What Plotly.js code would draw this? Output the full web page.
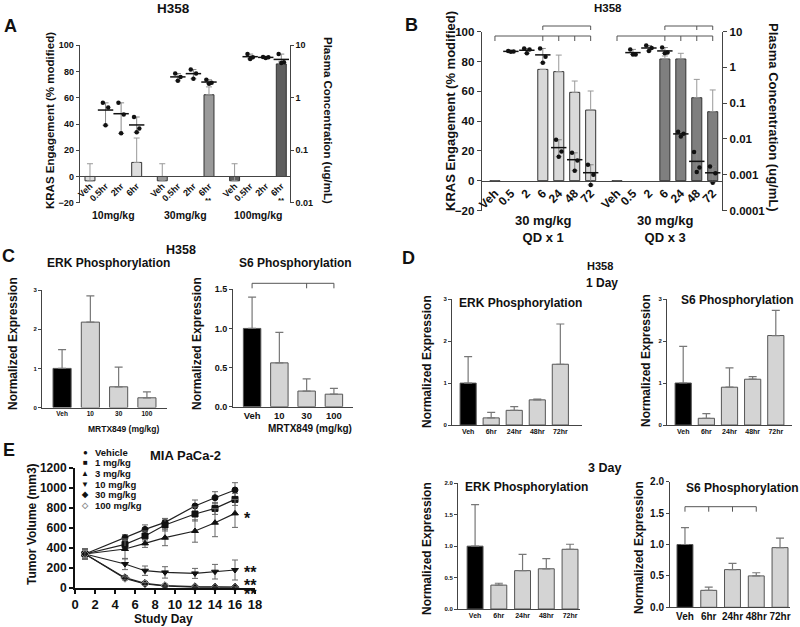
<!DOCTYPE html>
<html>
<head>
<meta charset="utf-8">
<script src="https://cdn.plot.ly/plotly-3.0.1.min.js"></script>
<style>
  body { margin: 0; background: #fff; }
  #chart { width: 800px; height: 627px; }
</style>
</head>
<body>
<div id="chart"></div>
<script>
// Figura de varios paneles: H358 / MIA PaCa-2
const W = 800, H = 627;
const FONT = 'Liberation Sans, Arial, Helvetica, sans-serif';

// ---- A: KRAS engagement tras dosis unica ----
const aDoses = ['10mg/kg', '30mg/kg', '100mg/kg'];
const aTimes = ['Veh', '0.5hr', '2hr', '6hr'];
const aEngage = [[-3.3, null, null, 10.7], [-3.3, null, null, 62.3], [-3.3, null, null, 85.8]];
const aEngageErr = [[13, 0, 0, 18.6], [13, 0, 0, 6], [13, 0, 0, 2]];
const aSig = ['', '**', '**'];
// concentracion plasmatica (ug/mL), tres animales por tiempo
const aPlasma = [
  [null, [0.80, 0.65, 0.30], [0.80, 0.48, 0.21], [0.43, 0.26, 0.22]],
  [null, [2.9, 2.5, 2.1], [3.45, 2.9, 2.3], [2.2, 1.93, 1.85]],
  [null, [6.8, 5.9, 5.5], [6.0, 5.9, 5.75], [6.8, 4.75, 4.6]]
];

// ---- B: QD x 1 vs QD x 3 ----
const bGroups = ['30 mg/kg', '30 mg/kg'];
const bRegimens = ['QD x 1', 'QD x 3'];
const bTimes = ['Veh', '0.5', '2', '6', '24', '48', '72'];
const bEngage = [[-0.5, null, null, 74.7, 73.2, 59.3, 47.4], [-0.5, null, null, 81.7, 81.7, 55.7, 46.3]];
const bEngageErr = [[0, 0, 0, 0, 11.1, 7.6, 12.8], [0, 0, 0, 2, 3.8, 12.3, 14.6]];
const bPlasma = [
  [null, [2.9, 2.8, 2.75], [3.4, 3.2, 2.5], [3.4, 2.0, 1.35], [0.0095, 0.0045, 0.0032], [0.0041, 0.0025, 0.0013], [0.0019, 0.0010, 0.00052]],
  [null, [3.2, 2.3, 2.3], [4.1, 3.5, 2.9], [3.6, 2.6, 2.5], [0.016, 0.0139, 0.0117], [0.0043, 0.0016, 0.0012], [0.0017, 0.0011, 0.0006]]
];

// ---- C: fosforilacion vs dosis ----
const cDoses = ['Veh', '10', '30', '100'];
const cErk = [1.0, 2.18, 0.53, 0.25];
const cErkErr = [0.48, 0.67, 0.50, 0.15];
const cS6 = [1.0, 0.56, 0.20, 0.16];
const cS6Err = [0.40, 0.39, 0.155, 0.075];

// ---- D: fosforilacion vs tiempo ----
const dTimes = ['Veh', '6hr', '24hr', '48hr', '72hr'];
const d1Erk = [1.0, 0.17, 0.35, 0.60, 1.45];
const d1ErkErr = [0.63, 0.13, 0.09, 0.02, 0.96];
const d1S6 = [1.0, 0.16, 0.90, 1.09, 2.13];
const d1S6Err = [0.87, 0.11, 0.46, 0.06, 0.60];
const d3Erk = [1.0, 0.38, 0.61, 0.64, 0.95];
const d3ErkErr = [0.66, 0.03, 0.26, 0.16, 0.08];
const d3S6 = [1.0, 0.27, 0.60, 0.50, 0.95];
const d3S6Err = [0.27, 0.05, 0.10, 0.05, 0.15];

// ---- E: volumen tumoral ----
const eDays = [1, 5, 7, 9, 12, 14, 16];
const eSeries = ['Vehicle', '1 mg/kg', '3 mg/kg', '10 mg/kg', '30 mg/kg', '100 mg/kg'];
const eVehicle = [337, 500, 583, 653, 817, 900, 977];
const eVehicleErr = [50, 30, 45, 40, 60, 60, 73];
const e1 = [337, 433, 517, 627, 737, 793, 883];
const e1Err = [50, 40, 50, 60, 70, 60, 60];
const e3 = [337, 387, 443, 500, 567, 650, 743];
const e3Err = [50, 100, 40, 80, 112, 140, 140];
const e10 = [337, 237, 170, 153, 143, 160, 177];
const e10Err = [50, 56, 47, 57, 50, 73, 100];
const e30 = [337, 100, 43, 20, 10, 7, 7];
const e30Err = [50, 20, 20, 15, 10, 10, 10];
const e100 = [337, 93, 37, 17, 3, 3, 3];
const e100Err = [50, 15, 15, 10, 5, 5, 5];
const eSig = ['', '', '*', '**', '**', '**'];

// ---------- utilidades ----------
const px = x => x / W;
const py = y => 1 - y / H;
const tf = (size, color) => ({ family: FONT, size: size, color: color || '#111', weight: 'bold' });
const zeros = n => new Array(n).fill(0);
const JIT = [-0.17, 0.17, 0];

const AX = {
  showgrid: false, zeroline: false, showline: true, linecolor: '#444', linewidth: 1,
  ticks: 'outside', ticklen: 3, tickwidth: 1, tickcolor: '#444', fixedrange: true
};

const aPos = (g, i) => g * 4.645 + i;
const bPos = (g, i) => g * 7.65 + i;

const traces = [];

function plasmaTraces(groups, posOf, xa, ya) {
  const sx = [], sy = [], mx = [], my = [], up = [], dn = [];
  groups.forEach((grp, g) => grp.forEach((pts, i) => {
    if (!pts) return;
    const x0 = posOf(g, i);
    pts.forEach((v, k) => { sx.push(x0 + JIT[k]); sy.push(v); });
    const m = pts.reduce((s, v) => s + v, 0) / pts.length;
    mx.push(x0); my.push(m);
    up.push(Math.max(...pts) - m);
    dn.push(m - Math.min(...pts));
  }));
  return [
    {
      type: 'scatter', mode: 'markers', x: mx, y: my, xaxis: xa, yaxis: ya, cliponaxis: false,
      marker: { symbol: 'line-ew', size: 11, color: '#111', line: { width: 1.5, color: '#111' } },
      error_y: { type: 'data', symmetric: false, array: up, arrayminus: dn, color: '#888', thickness: 1, width: 3 }
    },
    {
      type: 'scatter', mode: 'markers', x: sx, y: sy, xaxis: xa, yaxis: ya, cliponaxis: false,
      marker: { symbol: 'circle', size: 4.5, color: '#111' }
    }
  ];
}

// Panel A
const aFill = ['#dedede', '#9a9a9a', '#5f5f5f'];
aDoses.forEach((d, g) => {
  traces.push({
    type: 'bar', name: d, x: aTimes.map((t, i) => aPos(g, i)), y: aEngage[g], width: 0.64,
    xaxis: 'x', yaxis: 'y',
    marker: { color: aFill[g], line: { color: '#333', width: 1 } },
    error_y: { type: 'data', symmetric: false, array: aEngageErr[g], arrayminus: zeros(4), color: '#999', thickness: 1, width: 3 }
  });
});
traces.push(...plasmaTraces(aPlasma, aPos, 'x', 'y2'));

// Panel B
const bFill = ['#d9d9d9', '#7f7f7f'];
bRegimens.forEach((r, g) => {
  traces.push({
    type: 'bar', name: r, x: bTimes.map((t, i) => bPos(g, i)), y: bEngage[g], width: 0.63,
    xaxis: 'x2', yaxis: 'y3',
    marker: { color: bFill[g], line: { color: '#333', width: 1 } },
    error_y: { type: 'data', symmetric: false, array: bEngageErr[g], arrayminus: zeros(7), color: '#999', thickness: 1, width: 3 }
  });
});
traces.push(...plasmaTraces(bPlasma, bPos, 'x2', 'y4'));

// Paneles C y D: barras simples
function barTrace(cats, vals, errs, xa, ya, width) {
  return {
    type: 'bar', x: cats, y: vals, xaxis: xa, yaxis: ya, width: width,
    marker: { color: cats.map((c, i) => i === 0 ? '#000' : '#d4d4d4'), line: { color: '#555', width: 1 } },
    error_y: { type: 'data', symmetric: false, array: errs, arrayminus: zeros(errs.length), color: '#777', thickness: 1.2, width: 4 }
  };
}
traces.push(barTrace(cDoses, cErk, cErkErr, 'x3', 'y5', 0.64));
traces.push(barTrace(cDoses, cS6, cS6Err, 'x4', 'y6', 0.64));
traces.push(barTrace(dTimes, d1Erk, d1ErkErr, 'x5', 'y7', 0.7));
traces.push(barTrace(dTimes, d1S6, d1S6Err, 'x6', 'y8', 0.7));
traces.push(barTrace(dTimes, d3Erk, d3ErkErr, 'x7', 'y9', 0.67));
traces.push(barTrace(dTimes, d3S6, d3S6Err, 'x8', 'y10', 0.67));

// Panel E
const eVals = [eVehicle, e1, e3, e10, e30, e100];
const eErrs = [eVehicleErr, e1Err, e3Err, e10Err, e30Err, e100Err];
const eSymbols = ['circle', 'square', 'triangle-up', 'triangle-down', 'diamond', 'diamond-open'];
const eGlyphs = ['●', '■', '▲', '▼', '◆', '◇'];
const eColors = ['#111', '#111', '#111', '#111', '#111', '#888'];
eSeries.forEach((s, k) => {
  traces.push({
    type: 'scatter', mode: 'lines+markers', name: s, x: eDays, y: eVals[k],
    xaxis: 'x9', yaxis: 'y11', cliponaxis: false,
    line: { color: '#222', width: 1.2 },
    marker: { symbol: eSymbols[k], size: 6, color: eColors[k], line: { color: eColors[k], width: 1 } },
    error_y: { type: 'data', array: eErrs[k], color: '#666', thickness: 1, width: 3 }
  });
});

// ---------- layout ----------
const layout = {
  width: W, height: H,
  margin: { l: 0, r: 0, t: 0, b: 0 },
  paper_bgcolor: '#fff', plot_bgcolor: 'rgba(0,0,0,0)',
  font: { family: FONT, size: 10, color: '#111' },
  showlegend: false, barmode: 'overlay',
  annotations: [], shapes: []
};

// A
layout.xaxis = Object.assign({}, AX, {
  domain: [px(79.7), px(289.7)], range: [-0.66, 12.83], anchor: 'free', position: py(176.3),
  tickmode: 'array', tickvals: aDoses.flatMap((d, g) => aTimes.map((t, i) => aPos(g, i))),
  ticktext: aDoses.flatMap(() => aTimes), tickangle: -45, ticks: '', tickfont: tf(9)
});
layout.yaxis = Object.assign({}, AX, {
  domain: [py(202.7), py(45.3)], range: [-20, 100], tickvals: [-20, 0, 20, 40, 60, 80, 100],
  anchor: 'x', tickfont: tf(9)
});
layout.yaxis2 = Object.assign({}, AX, {
  overlaying: 'y', side: 'right', anchor: 'x', type: 'log', range: [-2, 1],
  tickvals: [0.01, 0.1, 1, 10], ticktext: ['0.01', '0.1', '1', '10'], tickfont: tf(9)
});

// B
layout.xaxis2 = Object.assign({}, AX, {
  domain: [px(481.7), px(722.3)], range: [-0.83, 14.25], anchor: 'free', position: py(180.7),
  tickmode: 'array', tickvals: bRegimens.flatMap((r, g) => bTimes.map((t, i) => bPos(g, i))),
  ticktext: bRegimens.flatMap(() => bTimes), tickangle: -45, ticks: '', tickfont: tf(12)
});
layout.yaxis3 = Object.assign({}, AX, {
  domain: [py(210.5), py(31.7)], range: [-20, 100], tickvals: [-20, 0, 20, 40, 60, 80, 100],
  anchor: 'x2', tickfont: tf(11.5), ticklen: 4
});
layout.yaxis4 = Object.assign({}, AX, {
  overlaying: 'y3', side: 'right', anchor: 'x2', type: 'log', range: [-4, 1],
  tickvals: [0.0001, 0.001, 0.01, 0.1, 1, 10], ticktext: ['0.0001', '0.001', '0.01', '0.1', '1', '10'],
  tickfont: tf(11.5), ticklen: 4
});

// C
layout.xaxis3 = Object.assign({}, AX, { domain: [px(42), px(167)], type: 'category', range: [-0.71, 3.71], anchor: 'y5', ticks: '', tickfont: tf(6.5) });
layout.yaxis5 = Object.assign({}, AX, { domain: [py(407.6), py(290)], range: [0, 3], tickvals: [0, 1, 2, 3], anchor: 'x3', tickfont: tf(6) });
layout.xaxis4 = Object.assign({}, AX, { domain: [px(233), px(353)], type: 'category', range: [-0.7, 3.7], anchor: 'y6', ticks: '', tickfont: tf(9.5) });
layout.yaxis6 = Object.assign({}, AX, {
  domain: [py(406.7), py(289.3)], range: [0, 1.5], tickvals: [0, 0.5, 1, 1.5],
  ticktext: ['0.0', '0.5', '1.0', '1.5'], anchor: 'x4', tickfont: tf(9)
});

// D
const half = ['0.0', '0.5', '1.0', '1.5', '2.0'];
layout.xaxis5 = Object.assign({}, AX, { domain: [px(452), px(582)], type: 'category', range: [-0.7, 4.94], anchor: 'y7', ticks: '', tickfont: tf(7) });
layout.yaxis7 = Object.assign({}, AX, { domain: [py(425), py(299.3)], range: [0, 3], tickvals: [0, 1, 2, 3], anchor: 'x5', tickfont: tf(6) });
layout.xaxis6 = Object.assign({}, AX, { domain: [px(667), px(792)], type: 'category', range: [-0.7, 4.7], anchor: 'y8', ticks: '', tickfont: tf(7) });
layout.yaxis8 = Object.assign({}, AX, { domain: [py(425), py(299)], range: [0, 3], tickvals: [0, 1, 2, 3], anchor: 'x6', tickfont: tf(6) });
layout.xaxis7 = Object.assign({}, AX, { domain: [px(458), px(580)], type: 'category', range: [-0.72, 4.42], anchor: 'y9', ticks: '', tickfont: tf(7) });
layout.yaxis9 = Object.assign({}, AX, { domain: [py(609), py(483.3)], range: [0, 2], tickvals: [0, 0.5, 1, 1.5, 2], ticktext: half, anchor: 'x7', tickfont: tf(6) });
layout.xaxis8 = Object.assign({}, AX, { domain: [px(670), px(790)], type: 'category', range: [-0.63, 4.42], anchor: 'y10', ticks: '', tickfont: tf(10) });
layout.yaxis10 = Object.assign({}, AX, { domain: [py(607.3), py(481.7)], range: [0, 2], tickvals: [0, 0.5, 1, 1.5, 2], ticktext: half, anchor: 'x8', tickfont: tf(10) });

// E
layout.xaxis9 = Object.assign({}, AX, {
  domain: [px(75), px(255)], range: [0, 18], tickvals: [0, 2, 4, 6, 8, 10, 12, 14, 16, 18],
  anchor: 'y11', linewidth: 2, tickwidth: 2, ticklen: 4, linecolor: '#111', tickcolor: '#111', tickfont: tf(13)
});
layout.yaxis11 = Object.assign({}, AX, {
  domain: [py(587.7), py(467.7)], range: [0, 1200], dtick: 200,
  anchor: 'x9', linewidth: 2, tickwidth: 2, ticklen: 4, linecolor: '#111', tickcolor: '#111', tickfont: tf(12)
});

// ---------- textos ----------
function label(text, x, y, size, extra) {
  return Object.assign({
    text: text, x: px(x), y: py(y), xref: 'paper', yref: 'paper', showarrow: false,
    font: tf(size), xanchor: 'center', yanchor: 'middle'
  }, extra || {});
}
const ann = layout.annotations;
['A', 'B', 'C', 'D', 'E'].forEach((l, i) => {
  const pos = [[10, 26], [411, 25], [8, 256], [408, 258], [9, 450]][i];
  ann.push(label(l, pos[0], pos[1], 18));
});
ann.push(label('H358', 173, 8, 13.5));
ann.push(label('H358', 608, 8, 11.5));
ann.push(label('H358', 181, 250, 12.5));
ann.push(label('H358', 600, 266, 11));
ann.push(label('1 Day', 602, 283, 12));
ann.push(label('3 Day', 604, 468, 12.5));

// A
ann.push(label('KRAS Engagement (% modified)', 50, 121, 11.5, { textangle: -90 }));
ann.push(label('Plasma Concentration (ug/mL)', 328, 120, 11.5, { textangle: 90 }));
aDoses.forEach((d, g) => {
  ann.push({ text: d, x: aPos(g, 1.5), y: py(215), xref: 'x', yref: 'paper', showarrow: false, font: tf(10.5) });
  if (aSig[g]) ann.push({ text: aSig[g], x: aPos(g, 3), y: py(207), yanchor: 'bottom', xref: 'x', yref: 'paper', showarrow: false, font: tf(8) });
});

// B
ann.push(label('KRAS Engagement (% modified)', 450, 111, 13, { textangle: -90 }));
ann.push(label('Plasma Concentration (ug/mL)', 773, 117, 13, { textangle: 90 }));
bRegimens.forEach((r, g) => {
  ann.push({ text: bGroups[g] + '<br>' + r, x: bPos(g, 3), y: py(229), xref: 'x2', yref: 'paper', showarrow: false, font: tf(13) });
});

// C
ann.push(label('ERK Phosphorylation', 108, 263, 12));
ann.push(label('S6 Phosphorylation', 295, 263, 12));
ann.push(label('Normalized Expression', 13, 344, 12, { textangle: -90 }));
ann.push(label('Normalized Expression', 197, 344, 12, { textangle: -90 }));
ann.push(label('MRTX849 (mg/kg)', 123, 429, 8.5));
ann.push(label('MRTX849 (mg/kg)', 310, 428, 10));

// D
ann.push(label('ERK Phosphorylation', 520, 303, 12));
ann.push(label('S6 Phosphorylation', 737, 300, 12));
ann.push(label('Normalized Expression', 427, 361, 12, { textangle: -90 }));
ann.push(label('Normalized Expression', 646, 361, 12, { textangle: -90 }));
ann.push(label('ERK Phosphorylation', 526, 487, 12));
ann.push(label('S6 Phosphorylation', 742, 488, 12));
ann.push(label('Normalized Expression', 427, 548, 12, { textangle: -90 }));
ann.push(label('Normalized Expression', 639, 548, 12, { textangle: -90 }));

// E
ann.push(label('MIA PaCa-2', 185, 455, 13));
ann.push(label('Tumor Volume (mm3)', 32, 524, 12, { textangle: -90 }));
ann.push(label('Study Day', 163, 619, 12));
eSeries.forEach((s, k) => {
  const y = 452.3 + k * 10.6;
  ann.push(label(eGlyphs[k], 85, y, 8, { font: tf(8, eColors[k]) }));
  ann.push(label(s, 93, y, 9.5, { xanchor: 'left' }));
});
const eShift = [0, 0, -5, -2, 2, -7];
eSeries.forEach((s, k) => {
  if (!eSig[k]) return;
  ann.push({
    text: eSig[k], x: 16.7, y: eVals[k][eVals[k].length - 1], xref: 'x9', yref: 'y11',
    xanchor: 'left', yanchor: 'middle', yshift: eShift[k], showarrow: false, font: tf(16)
  });
});

// ---------- corchetes de significancia ----------
function bracket(xref, xs, ytop, len) {
  const ln = { color: '#555', width: 1 };
  const out = [{ type: 'line', xref: xref, yref: 'paper', x0: Math.min(...xs), x1: Math.max(...xs), y0: py(ytop), y1: py(ytop), line: ln }];
  xs.forEach(x => out.push({ type: 'line', xref: xref, yref: 'paper', x0: x, x1: x, y0: py(ytop), y1: py(ytop + len), line: ln }));
  return out;
}
const sh = layout.shapes;
sh.push(...bracket('x2', [0, 3, 4, 5, 6].map(i => bPos(0, i)), 36, 5));
sh.push(...bracket('x2', [3, 6].map(i => bPos(0, i)), 26, 4));
sh.push(...bracket('x2', [0, 3, 4, 5, 6].map(i => bPos(1, i)), 36, 5));
sh.push(...bracket('x2', [3, 5, 6].map(i => bPos(1, i)), 26, 4));
sh.push(...bracket('x4', [0, 2, 3], 283.3, 5));
sh.push(...bracket('x8', [0, 1, 2, 3], 506.7, 5));

Plotly.newPlot('chart', traces, layout, { displayModeBar: false, staticPlot: true });
</script>
</body>
</html>
